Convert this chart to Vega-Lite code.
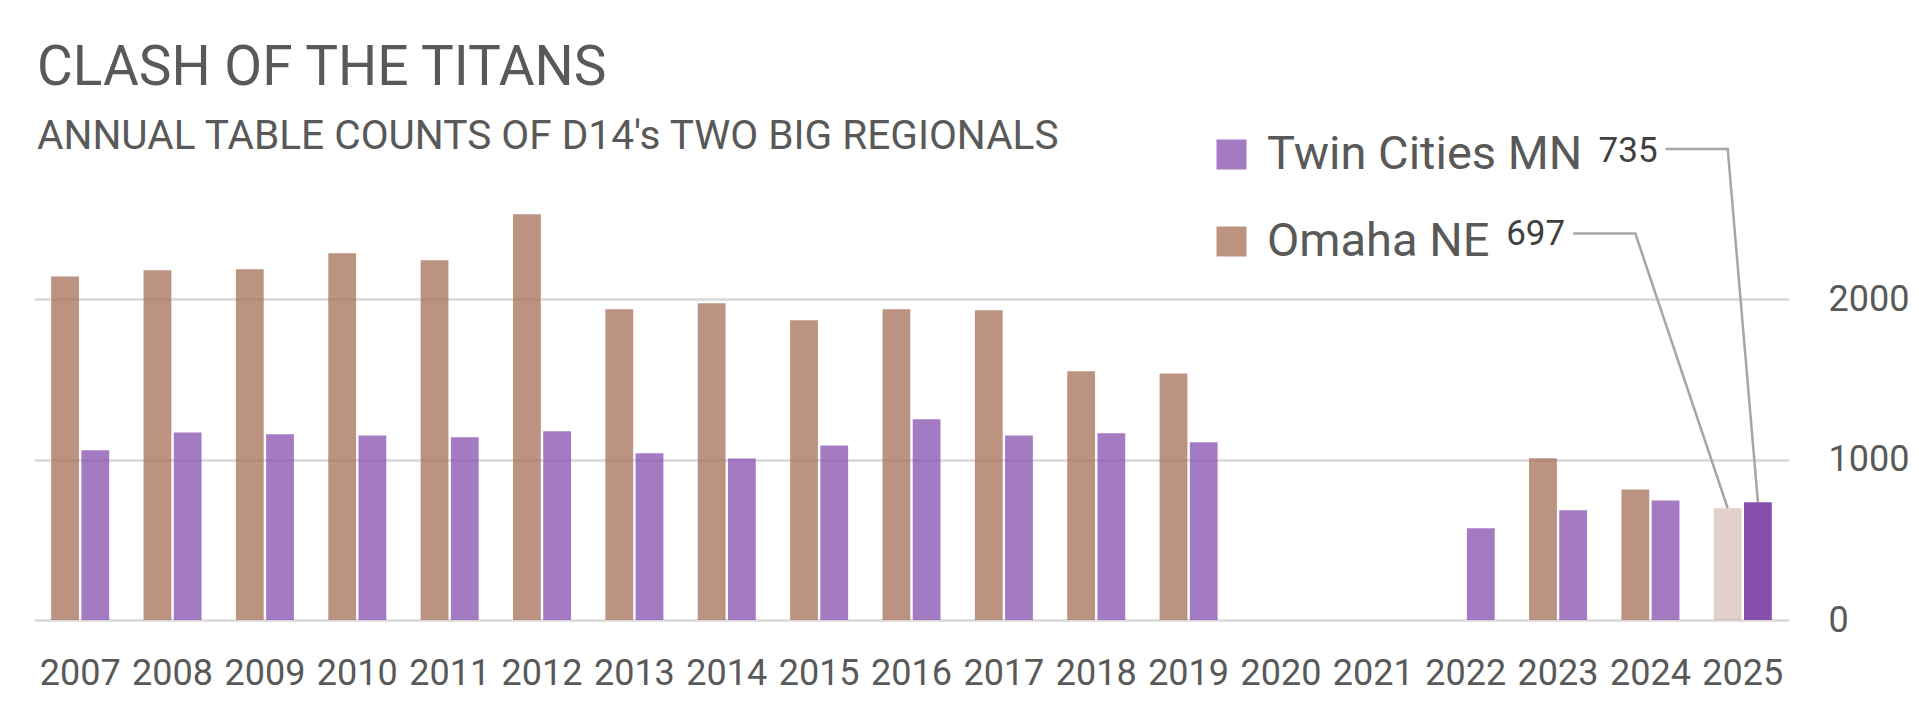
{
  "$schema": "https://vega.github.io/schema/vega-lite/v6.json",
  "description": "Clash of the Titans: annual table counts of D14's two big regionals",
  "autosize": "none",
  "width": 1755,
  "height": 465,
  "padding": {"left": 34, "top": 155, "right": 130, "bottom": 84},
  "background": "white",
  "title": {
    "text": "CLASH OF THE TITANS",
    "subtitle": "ANNUAL TABLE COUNTS OF D14's TWO BIG REGIONALS",
    "anchor": "start",
    "frame": "group",
    "font": "Roboto",
    "fontSize": 55,
    "fontWeight": "normal",
    "color": "#595959",
    "subtitleFont": "Roboto",
    "subtitleFontSize": 40.6,
    "subtitleColor": "#595959",
    "subtitlePadding": 20,
    "offset": -28,
    "dx": 3
  },
  "datasets": {
    "tables": [
      {"Year": "2007", "Region": "Omaha NE", "Tables": 2143},
      {"Year": "2007", "Region": "Twin Cities MN", "Tables": 1058},
      {"Year": "2008", "Region": "Omaha NE", "Tables": 2181},
      {"Year": "2008", "Region": "Twin Cities MN", "Tables": 1170},
      {"Year": "2009", "Region": "Omaha NE", "Tables": 2187},
      {"Year": "2009", "Region": "Twin Cities MN", "Tables": 1158},
      {"Year": "2010", "Region": "Omaha NE", "Tables": 2287},
      {"Year": "2010", "Region": "Twin Cities MN", "Tables": 1151},
      {"Year": "2011", "Region": "Omaha NE", "Tables": 2243},
      {"Year": "2011", "Region": "Twin Cities MN", "Tables": 1139},
      {"Year": "2012", "Region": "Omaha NE", "Tables": 2530},
      {"Year": "2012", "Region": "Twin Cities MN", "Tables": 1177},
      {"Year": "2013", "Region": "Omaha NE", "Tables": 1938},
      {"Year": "2013", "Region": "Twin Cities MN", "Tables": 1040},
      {"Year": "2014", "Region": "Omaha NE", "Tables": 1975},
      {"Year": "2014", "Region": "Twin Cities MN", "Tables": 1007},
      {"Year": "2015", "Region": "Omaha NE", "Tables": 1869},
      {"Year": "2015", "Region": "Twin Cities MN", "Tables": 1089},
      {"Year": "2016", "Region": "Omaha NE", "Tables": 1938},
      {"Year": "2016", "Region": "Twin Cities MN", "Tables": 1252},
      {"Year": "2017", "Region": "Omaha NE", "Tables": 1931},
      {"Year": "2017", "Region": "Twin Cities MN", "Tables": 1151},
      {"Year": "2018", "Region": "Omaha NE", "Tables": 1551},
      {"Year": "2018", "Region": "Twin Cities MN", "Tables": 1164},
      {"Year": "2019", "Region": "Omaha NE", "Tables": 1538},
      {"Year": "2019", "Region": "Twin Cities MN", "Tables": 1108},
      {"Year": "2022", "Region": "Twin Cities MN", "Tables": 572},
      {"Year": "2023", "Region": "Omaha NE", "Tables": 1008},
      {"Year": "2023", "Region": "Twin Cities MN", "Tables": 684},
      {"Year": "2024", "Region": "Omaha NE", "Tables": 814},
      {"Year": "2024", "Region": "Twin Cities MN", "Tables": 746},
      {"Year": "2025", "Region": "Omaha NE", "Tables": 697},
      {"Year": "2025", "Region": "Twin Cities MN", "Tables": 735}
    ],
    "leaders": [
      {"Region": "Twin Cities MN", "Point": 1, "Year": "2024", "Slot": "Twin Cities MN", "Tables": 2937},
      {"Region": "Twin Cities MN", "Point": 2, "Year": "2025", "Slot": "Omaha NE", "Tables": 2937},
      {"Region": "Twin Cities MN", "Point": 3, "Year": "2025", "Slot": "Twin Cities MN", "Tables": 735},
      {"Region": "Omaha NE", "Point": 1, "Year": "2023", "Slot": "Twin Cities MN", "Tables": 2410},
      {"Region": "Omaha NE", "Point": 2, "Year": "2024", "Slot": "Omaha NE", "Tables": 2410},
      {"Region": "Omaha NE", "Point": 3, "Year": "2025", "Slot": "Omaha NE", "Tables": 697}
    ],
    "callouts": [
      {"Region": "Twin Cities MN", "Year": "2024", "Slot": "Twin Cities MN", "LabelAt": 2928, "Label": 735},
      {"Region": "Omaha NE", "Year": "2023", "Slot": "Twin Cities MN", "LabelAt": 2407, "Label": 697}
    ]
  },
  "layer": [
    {
      "data": {"name": "tables"},
      "mark": {"type": "bar"},
      "encoding": {
        "x": {
          "field": "Year",
          "type": "nominal",
          "scale": {
            "domain": ["2007", "2008", "2009", "2010", "2011", "2012", "2013", "2014", "2015", "2016", "2017", "2018", "2019", "2020", "2021", "2022", "2023", "2024", "2025"],
            "paddingInner": 0.372,
            "paddingOuter": 0.186
          },
          "axis": {
            "title": null,
            "labelAngle": 0,
            "labelFont": "Roboto",
            "labelFontSize": 36,
            "labelColor": "#595959",
            "ticks": false,
            "tickSize": 0,
            "domain": false,
            "grid": false,
            "labelPadding": 36
          }
        },
        "xOffset": {
          "field": "Region",
          "type": "nominal",
          "scale": {"domain": ["Omaha NE", "Twin Cities MN"], "paddingInner": 0.08, "paddingOuter": 0}
        },
        "y": {
          "field": "Tables",
          "type": "quantitative",
          "scale": {"domain": [0, 2900], "nice": false},
          "axis": {
            "orient": "right",
            "title": null,
            "values": [0, 1000, 2000],
            "format": "d",
            "grid": true,
            "gridColor": "#D9D9D9",
            "gridWidth": 2.5,
            "ticks": false,
            "tickSize": 0,
            "domain": false,
            "labelAlign": "left",
            "labelBaseline": "middle",
            "labelPadding": 39,
            "labelFont": "Roboto",
            "labelFontSize": 36,
            "labelColor": "#595959"
          }
        },
        "color": {
          "field": "Region",
          "type": "nominal",
          "scale": {"domain": ["Twin Cities MN", "Omaha NE"], "range": ["#864FAE", "#A56E56"]},
          "legend": {
            "orient": "none",
            "direction": "vertical",
            "legendX": 1174,
            "legendY": -24,
            "title": null,
            "padding": 0,
            "symbolType": "square",
            "symbolSize": 900,
            "symbolOpacity": 0.75,
            "symbolStrokeWidth": 0,
            "labelFont": "Roboto",
            "labelFontSize": 47,
            "labelColor": "#595959",
            "labelOffset": 12,
            "labelLimit": 0,
            "rowPadding": 39
          }
        },
        "opacity": {
          "condition": [
            {"test": "datum.Year == '2025' && datum.Region == 'Twin Cities MN'", "value": 1},
            {"test": "datum.Year == '2025'", "value": 0.32}
          ],
          "value": 0.75
        }
      }
    },
    {
      "data": {"name": "leaders"},
      "mark": {"type": "line", "color": "#A6A6A6", "strokeWidth": 2.5},
      "encoding": {
        "x": {"field": "Year", "type": "nominal"},
        "xOffset": {"field": "Slot", "type": "nominal"},
        "y": {"field": "Tables", "type": "quantitative"},
        "detail": {"field": "Region", "type": "nominal"},
        "order": {"field": "Point", "type": "quantitative"}
      }
    },
    {
      "data": {"name": "callouts"},
      "mark": {"type": "text", "align": "right", "baseline": "middle", "dx": -8, "font": "Roboto", "fontSize": 35, "color": "#404040"},
      "encoding": {
        "x": {"field": "Year", "type": "nominal"},
        "xOffset": {"field": "Slot", "type": "nominal"},
        "y": {"field": "LabelAt", "type": "quantitative"},
        "text": {"field": "Label", "type": "quantitative"}
      }
    }
  ],
  "config": {
    "view": {"stroke": null},
    "font": "Roboto"
  }
}
